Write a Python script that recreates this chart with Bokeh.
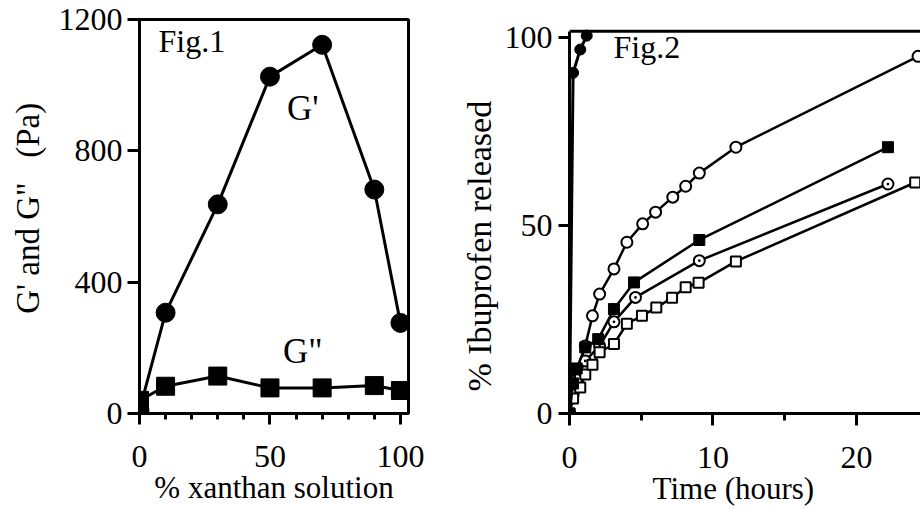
from bokeh.plotting import figure
from bokeh.layouts import row
from bokeh.models import FixedTicker, Label, Range1d, Span
from bokeh.embed import file_html
from bokeh.resources import INLINE

FONT = "Liberation Serif"

# ---- Fig.1 data ----
xanthan_pct = [0, 10, 30, 50, 70, 90, 100]
g_prime = [10, 307, 637, 1026, 1123, 682, 276]
g_double = [40, 83, 114, 78, 78, 85, 70]

# ---- Fig.2 data ----
t_fast = [0, 0.25, 0.75, 1.2]
r_fast = [0, 90.7, 96.9, 100.6]

t_oc = [0, 0.25, 0.5, 1.1, 1.6, 2.1, 3.1, 4.0, 5.1, 6.0, 7.2, 8.1, 9.05, 11.6, 24.3]
r_oc = [0, 6, 11, 18, 26, 31.8, 38.5, 45.6, 50.5, 53.6, 57.6, 60.5, 64.0, 70.9, 95.1]

t_fs = [0, 0.25, 0.5, 1.1, 2.0, 3.1, 4.5, 9.05, 22.2]
r_fs = [0, 8, 12, 17.6, 19.8, 27.8, 34.9, 46.2, 70.9]

t_cd = [0, 0.25, 0.5, 1.1, 2.1, 3.1, 4.6, 9.05, 22.2]
r_cd = [0, 5, 9, 14, 18, 24.4, 30.9, 40.7, 61.1]

t_os = [0, 0.25, 0.75, 1.1, 1.6, 2.1, 3.1, 4.0, 5.05, 6.05, 7.15, 8.1, 9.0, 11.6, 24.1]
r_os = [0, 4, 6.9, 10.4, 13, 16.3, 18.5, 23.9, 26, 28.2, 30.8, 33.6, 34.8, 40.5, 61.5]

fig1_xticks = [0, 50, 100]
fig1_xminor = [10, 20, 30, 40, 60, 70, 80, 90]
fig1_yticks = [0, 400, 800, 1200]
fig2_xticks = [0, 10, 20]
fig2_xminor = [5, 15]
fig2_yticks = [0, 50, 100]
fig2_frame_top = 101.76

TICK_FS = "32px"
NB = "\u00a0"


def style_axis(ax, ticks, minor, tick_standoff, tick_out, minor_out, label, label_fs, label_standoff):
    ax.ticker = FixedTicker(ticks=ticks, minor_ticks=minor)
    ax.axis_line_width = 3
    ax.axis_line_color = "black"
    ax.major_tick_line_width = 3
    ax.major_tick_line_color = "black"
    ax.major_tick_out = tick_out
    ax.major_tick_in = 0
    ax.minor_tick_line_width = 3
    ax.minor_tick_line_color = "black" if minor else None
    ax.minor_tick_out = minor_out
    ax.minor_tick_in = 0
    ax.major_label_text_font = FONT
    ax.major_label_text_font_size = TICK_FS
    ax.major_label_text_color = "black"
    ax.major_label_standoff = tick_standoff
    ax.axis_label = label
    ax.axis_label_text_font = FONT
    ax.axis_label_text_font_size = label_fs
    ax.axis_label_text_font_style = "normal"
    ax.axis_label_text_color = "black"
    ax.axis_label_standoff = label_standoff


def text(p, x, y, s, fs):
    p.add_layout(Label(x=x, y=y, text=s, text_font=FONT, text_font_size=fs,
                       text_color="black", text_align="left", text_baseline="alphabetic"))


# ---------- Fig.1 ----------
p1 = figure(width=440, height=509, output_backend="svg", toolbar_location=None, title=None,
            x_range=Range1d(0, 103.1), y_range=Range1d(0, 1200),
            min_border_left=139, min_border_right=32, min_border_top=19, min_border_bottom=96)
p1.grid.visible = False
p1.outline_line_color = "black"
p1.outline_line_width = 3
p1.background_fill_color = "white"
p1.border_fill_color = "white"

style_axis(p1.xaxis[0], fig1_xticks, fig1_xminor, 21, 11, 6, "% xanthan solution", "31px", 0)
style_axis(p1.yaxis[0], fig1_yticks, [], 5, 12, 0,
           NB * 2 + "G' and G\"" + NB * 3 + "(Pa)", "33px", 10)

p1.line(xanthan_pct, g_prime, line_color="black", line_width=3)
p1.scatter(xanthan_pct, g_prime, marker="circle", size=19, fill_color="black", line_color="black")
p1.line(xanthan_pct, g_double, line_color="black", line_width=3)
p1.scatter(xanthan_pct, g_double, marker="square", size=18, fill_color="black", line_color="black")

text(p1, 7.3, 1136, "Fig.1", "32px")
text(p1, 56.5, 929, "G'", "35px")
text(p1, 55.0, 189, "G\"", "35px")

# ---------- Fig.2 ----------
p2 = figure(width=480, height=509, output_backend="svg", toolbar_location=None, title=None,
            x_range=Range1d(0, 24.47), y_range=Range1d(0, 104.9),
            min_border_left=129, min_border_right=0, min_border_top=19, min_border_bottom=96)
p2.grid.visible = False
p2.outline_line_color = None
p2.background_fill_color = "white"
p2.border_fill_color = "white"

style_axis(p2.xaxis[0], fig2_xticks, fig2_xminor, 21, 12, 7,
           "Time (hours)" + NB * 3, "31px", 0)
style_axis(p2.yaxis[0], fig2_yticks, [], 6, 11, 0,
           "% Ibuprofen released" + NB * 7, "34px", 4)
p2.yaxis[0].bounds = (0, fig2_frame_top)
p2.add_layout(Span(location=fig2_frame_top, dimension="width", line_color="black", line_width=3))

LW = 2.5
p2.line(t_fast, r_fast, line_color="black", line_width=3)
p2.scatter(t_fast, r_fast, marker="circle", size=11, fill_color="black", line_color="black")

p2.line(t_oc, r_oc, line_color="black", line_width=LW)
p2.scatter(t_oc, r_oc, marker="circle", size=11, fill_color="white", line_color="black", line_width=2)

p2.line(t_cd, r_cd, line_color="black", line_width=LW)
p2.scatter(t_cd, r_cd, marker="circle_dot", size=11, fill_color="white", line_color="black", line_width=2)

p2.line(t_os, r_os, line_color="black", line_width=LW)
p2.scatter(t_os, r_os, marker="square", size=10, fill_color="white", line_color="black", line_width=2)

p2.line(t_fs, r_fs, line_color="black", line_width=LW)
p2.scatter(t_fs, r_fs, marker="square", size=11, fill_color="black", line_color="black")

text(p2, 3.07, 97.7, "Fig.2", "32px")

layout = row(p1, p2, spacing=0)

with open("out.html", "w") as f:
    f.write(file_html(layout, INLINE))
